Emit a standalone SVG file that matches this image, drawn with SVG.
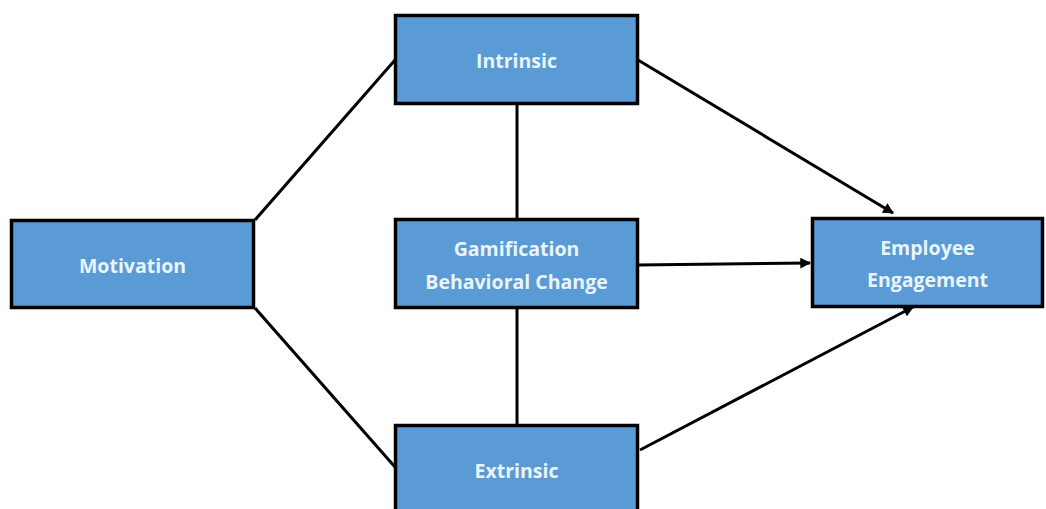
<svg xmlns="http://www.w3.org/2000/svg" width="1046" height="509" viewBox="0 0 1046 509">
<style>
.box{fill:#5B9BD5;stroke:#000;stroke-width:3.5}
.lbl{font-family:"Open Sans","Liberation Sans",sans-serif;font-weight:bold;font-size:19.5px;fill:#EAF4FB;text-anchor:middle}
.ln{stroke:#000;stroke-width:3;fill:none}
.arr{stroke:#000;stroke-width:3;fill:none;marker-end:url(#ah)}
</style>
<defs>
<marker id="ah" viewBox="0 0 10 10" refX="9" refY="5" markerWidth="4" markerHeight="3.6" orient="auto" markerUnits="strokeWidth">
<path d="M0,0 L10,5 L0,10 Z" fill="#000"/>
</marker>
</defs>
<rect width="1046" height="509" fill="#fff"/>
<g id="connectors">
<line class="ln" x1="255" y1="220" x2="395" y2="60"/>
<line class="ln" x1="255" y1="308" x2="395" y2="467"/>
<line class="ln" x1="517" y1="104" x2="517" y2="218"/>
<line class="ln" x1="517" y1="308" x2="517" y2="424"/>
<line class="arr" x1="638" y1="60" x2="893" y2="213"/>
<line class="arr" x1="638" y1="265" x2="810" y2="263"/>
<line class="arr" x1="640" y1="450" x2="913" y2="307"/>
</g>
<g id="intrinsic">
<rect class="box" x="395.5" y="15.5" width="242" height="88"/>
<text class="lbl" x="516.5" y="68">Intrinsic</text>
</g>
<g id="motivation">
<rect class="box" x="11.5" y="220.5" width="242" height="87"/>
<text class="lbl" x="132.5" y="273">Motivation</text>
</g>
<g id="gamification">
<rect class="box" x="395.5" y="219.5" width="242" height="88"/>
<text class="lbl" x="516.5" y="256">Gamification</text>
<text class="lbl" x="516.5" y="289">Behavioral Change</text>
</g>
<g id="engagement">
<rect class="box" x="812.5" y="218.5" width="230" height="88"/>
<text class="lbl" x="927.5" y="255">Employee</text>
<text class="lbl" x="927.5" y="287">Engagement</text>
</g>
<g id="extrinsic">
<rect class="box" x="395.5" y="425.5" width="242" height="90"/>
<text class="lbl" x="516.5" y="478">Extrinsic</text>
</g>
</svg>
